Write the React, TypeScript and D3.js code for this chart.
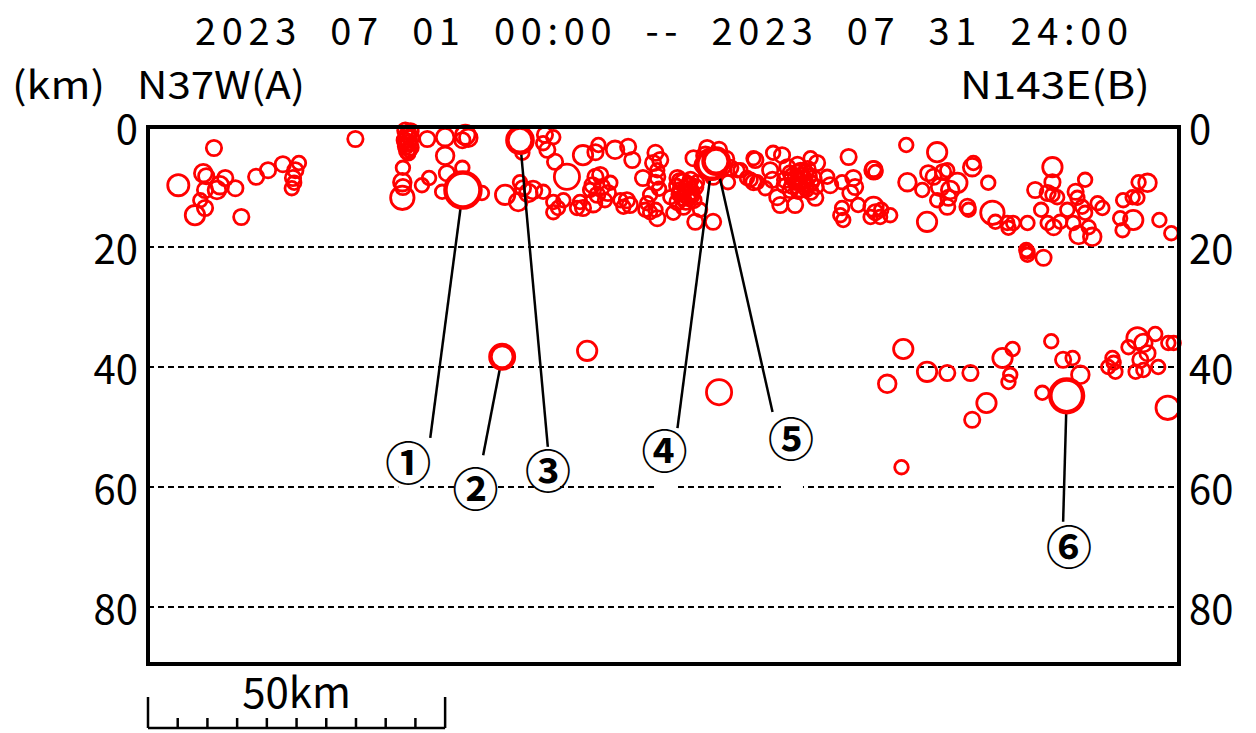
import React from 'react';
import * as d3 from 'd3';

const title = '2023  07  01  00:00  --  2023  07  31  24:00';
const unitLabel = '(km)';
const leftEnd = 'N37W(A)';
const rightEnd = 'N143E(B)';
const depthTicks = [0, 20, 40, 60, 80];
const gridDepths = [20, 40, 60, 80];
const scaleBarKm = 50;
const profileLength = 173.5; // km along A-B
const maxDepth = 89.5;

// [distance km, depth km, magnitude]
const westQuakes = [
  [5.1, 9.7, 2.3], [11.1, 3.5, 1.3], [9.3, 7.7, 1.7], [9.8, 8.2, 1.3], [13.0, 8.5, 1.3],
  [12.1, 9.7, 1.7], [11.6, 10.5, 1.7], [9.6, 10.5, 1.3], [14.7, 10.2, 1.3], [8.8, 12.2, 1.0],
  [9.6, 13.5, 1.3], [7.9, 14.7, 2.0], [15.7, 15.0, 1.3], [18.2, 8.3, 1.3], [20.2, 7.2, 1.3],
  [22.7, 6.2, 1.3], [25.4, 6.0, 1.0], [24.8, 7.2, 1.3], [24.4, 8.5, 1.3], [24.6, 9.3, 1.0],
  [24.2, 10.2, 1.0], [34.9, 2.0, 1.3],
];

const topCluster = [
  [43.3, 0.6, 1.3], [44.2, 0.7, 1.3], [43.6, 1.3, 1.3], [44.3, 1.8, 1.3], [43.2, 2.2, 1.3],
  [43.9, 2.6, 1.3], [43.4, 3.2, 1.3], [44.2, 3.4, 1.3], [43.6, 4.0, 1.3], [43.9, 1.0, 1.0],
  [43.5, 2.9, 1.0], [44.0, 3.9, 1.0], [43.7, 2.0, 1.7], [43.8, 4.4, 1.0],
];

const centralWest = [
  [42.9, 6.8, 1.0], [42.8, 9.2, 1.7], [42.9, 10.0, 1.3], [42.8, 11.8, 2.7], [46.1, 9.7, 1.0],
  [47.3, 8.5, 1.0], [47.0, 2.0, 1.3], [50.0, 1.7, 1.7], [50.0, 4.8, 1.7], [53.4, 1.3, 2.0],
  [52.9, 2.2, 1.3], [53.9, 1.8, 1.7], [50.3, 7.7, 1.3], [52.9, 6.8, 1.0], [49.5, 10.8, 1.0],
  [56.2, 11.0, 1.0], [63.0, 4.3, 1.0], [66.8, 1.3, 1.3], [68.2, 1.7, 1.0], [66.5, 2.7, 1.0],
  [67.2, 3.8, 1.3], [68.5, 5.8, 1.3], [70.5, 8.3, 3.0], [60.1, 11.3, 2.0], [62.6, 9.2, 1.0],
  [63.1, 10.2, 1.3], [64.8, 10.5, 1.7], [64.0, 11.0, 1.7], [66.5, 10.8, 1.0], [62.3, 12.5, 1.7],
  [68.2, 12.5, 1.0], [69.9, 12.2, 1.0], [69.0, 13.5, 1.0], [68.2, 14.2, 1.0], [72.2, 13.5, 1.0],
];

const centralMid = [
  [73.2, 4.7, 2.0], [75.8, 3.0, 1.0], [75.3, 4.2, 1.3], [78.6, 3.8, 1.7], [80.8, 3.3, 1.3],
  [81.5, 5.5, 1.3], [76.1, 8.0, 1.3], [75.3, 8.3, 1.3], [74.8, 9.7, 1.3], [76.4, 10.0, 1.3],
  [77.8, 9.3, 1.0], [74.4, 10.5, 1.0], [75.6, 11.3, 1.3], [77.4, 11.0, 1.3], [72.7, 12.5, 1.0],
  [73.2, 13.5, 1.3], [74.9, 12.7, 1.7], [76.9, 12.2, 1.0], [79.5, 12.2, 1.0], [80.6, 12.2, 1.3],
  [81.1, 13.0, 1.3], [80.0, 13.3, 1.0], [85.4, 4.3, 1.3], [85.0, 6.0, 1.3], [86.2, 5.5, 1.3],
  [85.7, 7.2, 1.0], [85.7, 8.3, 1.3], [85.4, 9.3, 1.3], [86.0, 10.3, 1.0], [83.3, 8.5, 1.3],
  [84.5, 11.3, 1.0], [84.0, 12.7, 1.0], [85.4, 13.8, 1.0], [83.7, 13.8, 1.0], [85.7, 15.2, 1.3],
  [84.5, 14.2, 1.0], [89.1, 8.5, 1.3], [90.1, 9.3, 1.7], [91.3, 8.8, 1.3], [92.1, 10.0, 1.3],
  [89.6, 10.5, 1.3], [90.7, 11.3, 1.7], [91.8, 12.2, 1.3], [89.1, 12.5, 1.3], [90.1, 13.3, 1.3],
  [92.4, 9.2, 1.0], [88.9, 9.8, 1.0], [90.4, 10.2, 1.0], [91.0, 12.0, 1.0], [87.9, 11.7, 1.0],
  [88.4, 14.3, 1.0], [91.8, 5.2, 1.3], [92.1, 15.8, 1.3], [95.1, 15.8, 1.3], [92.9, 13.8, 1.0],
  [94.1, 3.5, 1.3], [96.1, 3.8, 1.3], [97.3, 5.3, 1.3], [93.3, 6.3, 1.3], [95.1, 8.3, 1.3],
  [98.0, 6.8, 1.3], [99.2, 7.2, 1.0], [97.6, 9.2, 1.0], [93.8, 4.8, 1.7], [96.6, 6.5, 1.7],
  [94.6, 7.5, 1.3], [89.5, 9.0, 1.3], [90.8, 9.8, 1.3], [91.5, 10.8, 1.3], [90.0, 11.8, 1.3],
  [89.3, 11.2, 1.0], [91.2, 9.5, 1.0], [90.5, 12.6, 1.0], [90.3, 10.8, 1.0], [91.6, 11.5, 1.0],
];

const centralEast = [
  [101.9, 5.2, 1.0], [101.9, 9.2, 1.3], [100.8, 8.5, 1.0], [99.7, 7.2, 1.0], [102.2, 5.5, 1.3],
  [105.2, 4.3, 1.0], [106.7, 4.7, 1.3], [101.4, 8.8, 1.0], [102.5, 9.2, 1.0], [104.7, 7.2, 1.3],
  [105.1, 8.8, 1.3], [103.9, 10.2, 1.0], [107.6, 6.7, 1.3], [109.3, 6.3, 1.3], [111.0, 7.0, 1.3],
  [107.2, 8.8, 1.3], [108.6, 8.3, 1.7], [110.3, 8.8, 1.7], [112.0, 8.5, 1.3], [108.1, 10.5, 1.3],
  [109.8, 10.2, 1.7], [111.5, 10.8, 1.3], [109.3, 7.5, 1.0], [110.9, 9.7, 1.0], [108.9, 9.3, 1.0],
  [107.0, 9.8, 1.0], [112.5, 10.0, 1.0], [110.0, 8.0, 1.0], [109.5, 9.0, 1.3], [110.6, 7.6, 1.3],
  [108.0, 7.6, 1.0], [111.7, 9.3, 1.0], [112.6, 6.0, 1.3], [111.5, 5.2, 1.0], [114.3, 8.3, 1.0],
  [114.8, 9.7, 1.3], [105.9, 11.7, 1.3], [106.4, 13.0, 1.3], [108.9, 13.0, 1.3], [112.3, 11.8, 1.3],
  [117.9, 5.0, 1.3], [116.8, 9.2, 1.0], [118.7, 8.5, 1.3], [119.0, 10.0, 1.3], [118.2, 11.0, 1.3],
  [116.8, 13.5, 1.0], [116.5, 14.7, 1.0], [117.0, 15.5, 1.0], [122.1, 7.2, 1.7], [122.4, 7.5, 1.0],
  [122.1, 7.0, 1.3], [119.5, 13.0, 1.0], [122.1, 13.3, 2.0], [122.4, 14.2, 1.3], [123.2, 15.0, 1.0],
  [121.6, 15.0, 1.0], [124.9, 14.7, 1.0], [123.4, 13.8, 1.0], [109.0, 8.5, 1.3], [110.2, 9.5, 1.3],
  [108.4, 9.8, 1.3], [111.2, 8.2, 1.3], [109.8, 7.3, 1.3], [110.8, 10.5, 1.0], [109.4, 10.8, 1.0],
];

const eastQuakes = [
  [127.6, 3.0, 1.0], [132.8, 4.2, 2.0], [127.8, 9.2, 1.7], [131.3, 7.7, 1.3], [130.3, 10.5, 1.0],
  [132.2, 8.3, 1.3], [133.8, 7.5, 1.3], [134.5, 7.2, 1.0], [133.3, 10.0, 1.7], [135.0, 10.5, 1.7],
  [136.2, 9.3, 2.0], [134.7, 11.8, 1.3], [132.8, 12.2, 1.0], [134.5, 13.3, 1.3], [138.7, 6.7, 1.7],
  [138.9, 6.0, 1.0], [137.9, 13.3, 1.3], [138.1, 13.8, 1.0], [141.4, 9.3, 1.0], [131.1, 15.8, 2.0],
  [142.1, 14.3, 2.7], [142.6, 15.8, 1.0], [144.6, 16.0, 1.0], [145.6, 16.0, 1.0], [144.8, 16.8, 1.0],
  [148.0, 16.0, 1.0], [148.0, 20.8, 1.0], [148.0, 21.3, 1.0], [147.8, 20.5, 1.0], [150.7, 21.8, 1.3],
  [152.2, 6.7, 2.0], [152.2, 9.2, 1.3], [149.3, 10.5, 1.3], [151.4, 11.0, 1.3], [152.2, 11.3, 1.0],
  [153.0, 11.7, 1.0], [151.4, 16.0, 1.0], [152.4, 16.7, 1.3], [153.5, 15.8, 1.0], [154.7, 13.8, 1.0],
  [156.1, 10.8, 1.3], [156.4, 11.8, 1.0], [157.7, 8.8, 1.0], [157.2, 13.3, 1.0], [157.7, 14.3, 1.0],
  [155.7, 16.0, 1.0], [156.6, 18.0, 1.7], [158.9, 18.3, 1.7], [158.3, 16.7, 1.0], [159.8, 12.7, 1.0],
  [160.6, 13.5, 1.0], [164.1, 12.2, 1.0], [165.7, 11.7, 1.0], [166.5, 11.8, 1.0], [163.6, 15.2, 1.0],
  [164.0, 17.2, 1.0], [165.8, 15.5, 2.0], [166.7, 9.2, 1.0], [168.2, 9.3, 1.7], [170.2, 15.5, 1.0],
  [172.2, 17.7, 1.0], [150.3, 13.8, 1.0],
];

const deepQuakes = [
  [73.9, 37.3, 2.0], [96.1, 44.2, 3.0], [127.1, 37.0, 2.0], [124.4, 42.8, 1.7], [131.1, 40.8, 2.0],
  [134.5, 41.0, 1.3], [138.4, 41.0, 1.3], [143.8, 38.5, 2.0], [145.5, 37.0, 1.0], [145.1, 41.3, 1.0],
  [144.8, 42.5, 1.0], [141.1, 46.0, 2.0], [138.7, 48.8, 1.3], [126.8, 56.7, 1.0], [152.0, 35.7, 1.0],
  [154.0, 38.8, 1.3], [155.6, 38.5, 1.0], [156.9, 41.3, 1.7], [150.5, 44.3, 1.0], [161.6, 40.0, 1.0],
  [162.5, 39.3, 1.0], [162.3, 38.5, 1.0], [162.8, 40.8, 1.0], [166.5, 35.2, 2.3], [167.5, 36.0, 1.7],
  [165.0, 36.7, 1.0], [169.5, 34.5, 1.0], [168.2, 37.7, 1.3], [167.0, 38.8, 1.3], [166.2, 40.8, 1.0],
  [167.5, 40.5, 1.0], [170.0, 40.0, 1.0], [171.7, 36.0, 1.0], [172.6, 36.0, 1.0], [171.6, 46.8, 2.7],
];

// numbered events: hypocentre, end of leader line, label position (km)
const majorQuakes = [
  { label: '①', dist: 53.0, depth: 10.5, mag: 4.7, lineTo: [47.5, 51.8], labelAt: [43.8, 55.5] },
  { label: '②', dist: 59.6, depth: 38.3, mag: 2.7, lineTo: [56.4, 54.7], labelAt: [55.1, 59.8] },
  { label: '③', dist: 62.6, depth: 2.2, mag: 3.0, lineTo: [67.3, 53.5], labelAt: [67.3, 56.8] },
  { label: '④', dist: 94.9, depth: 6.2, mag: 3.7, lineTo: [89.1, 50.2], labelAt: [86.9, 53.5] },
  { label: '⑤', dist: 95.6, depth: 5.7, mag: 3.0, lineTo: [105.1, 47.5], labelAt: [108.2, 51.5] },
  { label: '⑥', dist: 154.6, depth: 44.8, mag: 4.3, lineTo: [154.0, 65.8], labelAt: [155.0, 69.5] },
];

const allQuakes = [
  ...westQuakes, ...topCluster, ...centralWest, ...centralMid,
  ...centralEast, ...eastQuakes, ...deepQuakes,
];

const font = '"Noto Sans CJK JP", "DejaVu Sans", sans-serif';

export default function App() {
  const width = 1256;
  const height = 733;
  const x = d3.scaleLinear().domain([0, profileLength]).range([148, 1179]);
  const y = d3.scaleLinear().domain([0, maxDepth]).range([127, 664]);
  const r = d3.scaleLinear().domain([1, 4.7]).range([6.8, 17.5]);
  const barY = 728;
  const barTicks = d3.range(0, scaleBarKm + 0.01, 5);

  return (
    <svg width={width} height={height} style={{ position: 'absolute', left: 0, top: 0, background: '#fff' }}>
      {gridDepths.map(d => (
        <line key={d} x1={x(0)} x2={x(profileLength)} y1={y(d)} y2={y(d)}
          stroke="#000" strokeWidth={2} strokeDasharray="6,4" />
      ))}

      <g fill="none" stroke="#ff0000" strokeWidth={2.8}>
        {allQuakes.map((q, i) => (
          <circle key={i} cx={x(q[0])} cy={y(q[1])} r={r(q[2])} />
        ))}
      </g>

      <g stroke="#000" strokeWidth={2.5}>
        {majorQuakes.map(q => (
          <line key={q.label} x1={x(q.dist)} y1={y(q.depth)} x2={x(q.lineTo[0])} y2={y(q.lineTo[1])} />
        ))}
      </g>

      <g fill="#fff" stroke="#ff0000" strokeWidth={4.5}>
        {majorQuakes.map(q => (
          <circle key={q.label} cx={x(q.dist)} cy={y(q.depth)} r={r(q.mag)} />
        ))}
      </g>

      {majorQuakes.map(q => (
        <g key={q.label}>
          <rect x={x(q.labelAt[0]) - 10} y={y(q.labelAt[1])} width={22} height={y(60) - y(q.labelAt[1]) + 6} fill="#fff" />
          <circle cx={x(q.labelAt[0])} cy={y(q.labelAt[1])} r={21} fill="#fff" />
          <text x={x(q.labelAt[0])} y={y(q.labelAt[1])} textAnchor="middle" dominantBaseline="central"
            fontFamily={font} fontSize={46} fontWeight="bold" fill="#000">{q.label}</text>
        </g>
      ))}

      <rect x={x(0)} y={y(0)} width={x(profileLength) - x(0)} height={y(maxDepth) - y(0)}
        fill="none" stroke="#000" strokeWidth={4} />

      <g fontFamily={font} fontSize={40} fill="#000">
        {depthTicks.map(d => (
          <g key={d}>
            <text x={x(0) - 10} y={y(d)} textAnchor="end" dominantBaseline="central">{d}</text>
            <text x={x(profileLength) + 10} y={y(d)} textAnchor="start" dominantBaseline="central">{d}</text>
          </g>
        ))}
      </g>

      <g fontFamily={font} fill="#000">
        <text x={195} y={45} fontSize={38} textLength={933} lengthAdjust="spacing" style={{ whiteSpace: 'pre' }}>{title}</text>
        <text x={12} y={99} fontSize={38} textLength={93} lengthAdjust="spacingAndGlyphs">{unitLabel}</text>
        <text x={137} y={99} fontSize={38} textLength={168} lengthAdjust="spacingAndGlyphs">{leftEnd}</text>
        <text x={960} y={99} fontSize={38} textLength={190} lengthAdjust="spacingAndGlyphs">{rightEnd}</text>
      </g>

      <g stroke="#000" strokeWidth={2.5} fill="none">
        <line x1={x(0)} x2={x(scaleBarKm)} y1={barY} y2={barY} />
        {barTicks.map(t => (
          <line key={t} x1={x(t)} x2={x(t)} y1={barY}
            y2={t === 0 || t === scaleBarKm ? barY - 31 : barY - 10} />
        ))}
      </g>
      <text x={(x(0) + x(scaleBarKm)) / 2} y={708} textAnchor="middle" fontFamily={font} fontSize={42} fill="#000">
        {scaleBarKm}km
      </text>
    </svg>
  );
}
